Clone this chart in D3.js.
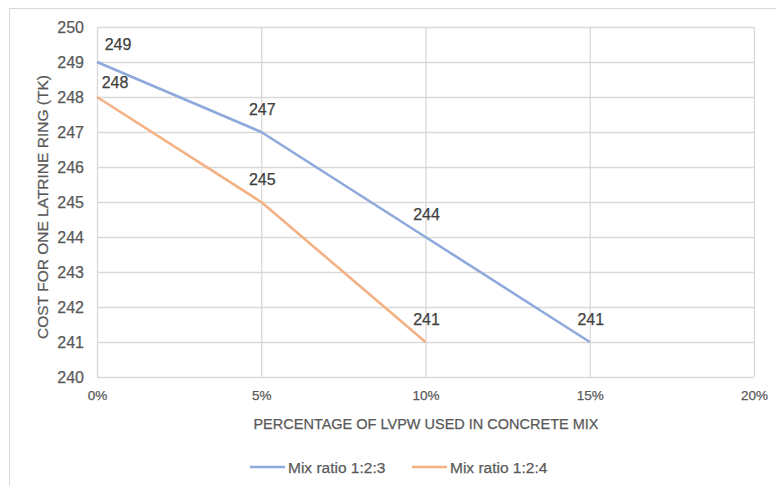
<!DOCTYPE html>
<html>
<head>
<meta charset="utf-8">
<script src="https://cdn.jsdelivr.net/npm/d3@7"></script>
<style>
  html, body { margin: 0; padding: 0; background: #fff; }
  svg { display: block; font-family: "Liberation Sans", Arial, sans-serif; }
  svg text { stroke-width: 0.25px; paint-order: stroke; }
</style>
</head>
<body>
<svg id="chart" width="776" height="486"></svg>
<script>
// Cost of one latrine ring vs. percentage of LVPW in the concrete mix
const percentages = [0, 5, 10, 15];
const xTicks = [0, 5, 10, 15, 20];
const yTicks = [240, 241, 242, 243, 244, 245, 246, 247, 248, 249, 250];
const mix123 = [249, 247, 244, 241];
const mix124 = [248, 245, 241];
const seriesNames = ["Mix ratio 1:2:3", "Mix ratio 1:2:4"];
const seriesColors = ["#8eaadc", "#f4b183"];

const series = [
  { name: seriesNames[0], color: seriesColors[0], values: mix123 },
  { name: seriesNames[1], color: seriesColors[1], values: mix124 }
];

const svg = d3.select("#chart");
const W = 776, H = 486;
const plot = { left: 97, right: 754, top: 27, bottom: 377 };
const labelGrey = "#595959", valueGrey = "#404040";

// outer chart frame
svg.append("rect")
  .attr("x", 9.5).attr("y", 8.5)
  .attr("width", W + 20).attr("height", H + 20)
  .attr("fill", "#fff").attr("stroke", "#d9d9d9").attr("stroke-width", 1);

const x = d3.scaleLinear().domain([0, 20]).range([plot.left, plot.right]);
const y = d3.scaleLinear().domain([240, 250]).range([plot.bottom, plot.top]);

// horizontal gridlines + y labels
const yAxis = d3.axisLeft(y).tickValues(yTicks).tickSize(-(plot.right - plot.left)).tickPadding(13);
const gy = svg.append("g").attr("transform", `translate(${plot.left},0)`).call(yAxis);
gy.select(".domain").remove();
gy.selectAll("line").attr("stroke", "#d9d9d9").attr("stroke-width", 1.3);
gy.selectAll("text").attr("fill", labelGrey).attr("stroke", labelGrey).attr("font-size", 16);

// vertical gridlines + x labels
const xAxis = d3.axisBottom(x).tickValues(xTicks).tickSize(-(plot.bottom - plot.top))
  .tickPadding(13).tickFormat(d => d + "%");
const gx = svg.append("g").attr("transform", `translate(0,${plot.bottom})`).call(xAxis);
gx.select(".domain").remove();
gx.selectAll("line").attr("stroke", "#d9d9d9").attr("stroke-width", 1.3);
gx.selectAll("text").attr("fill", labelGrey).attr("stroke", labelGrey).attr("font-size", 13.5);

// axis titles
svg.append("text")
  .attr("transform", `translate(48,207) rotate(-90)`)
  .attr("text-anchor", "middle")
  .attr("fill", labelGrey).attr("stroke", labelGrey).attr("font-size", 15.5)
  .text("COST FOR ONE LATRINE RING  (TK)");

svg.append("text")
  .attr("x", 426).attr("y", 429)
  .attr("text-anchor", "middle")
  .attr("fill", labelGrey).attr("stroke", labelGrey).attr("font-size", 14.5)
  .text("PERCENTAGE OF LVPW USED IN CONCRETE MIX");

// series lines
const line = d3.line().x((d, i) => x(percentages[i])).y(d => y(d));
series.forEach(s => {
  svg.append("path")
    .datum(s.values)
    .attr("d", line)
    .attr("fill", "none")
    .attr("stroke", s.color)
    .attr("stroke-width", 2.6)
    .attr("stroke-linejoin", "round");
});

// data labels above each point (first label nudged inside the plot)
series.forEach((s, k) => {
  svg.append("g").selectAll("text")
    .data(s.values)
    .join("text")
    .attr("x", (d, i) => i === 0 ? x(percentages[i]) + 21 - 3 * k : x(percentages[i]) + 1)
    .attr("y", (d, i) => i === 0 ? y(d) - 12 + 3 * k : y(d) - 17)
    .attr("text-anchor", "middle")
    .attr("fill", valueGrey).attr("stroke", valueGrey).attr("font-size", 16)
    .text(d => d);
});

// legend
const legend = svg.append("g");
const legendItems = [{ x: 250 }, { x: 412 }];
series.forEach((s, i) => {
  const lx = legendItems[i].x;
  legend.append("line")
    .attr("x1", lx).attr("x2", lx + 35)
    .attr("y1", 467).attr("y2", 467)
    .attr("stroke", s.color).attr("stroke-width", 2.6);
  legend.append("text")
    .attr("x", lx + 38).attr("y", 472.5)
    .attr("fill", labelGrey).attr("stroke", labelGrey).attr("font-size", 15.5)
    .text(s.name);
});
</script>
</body>
</html>
